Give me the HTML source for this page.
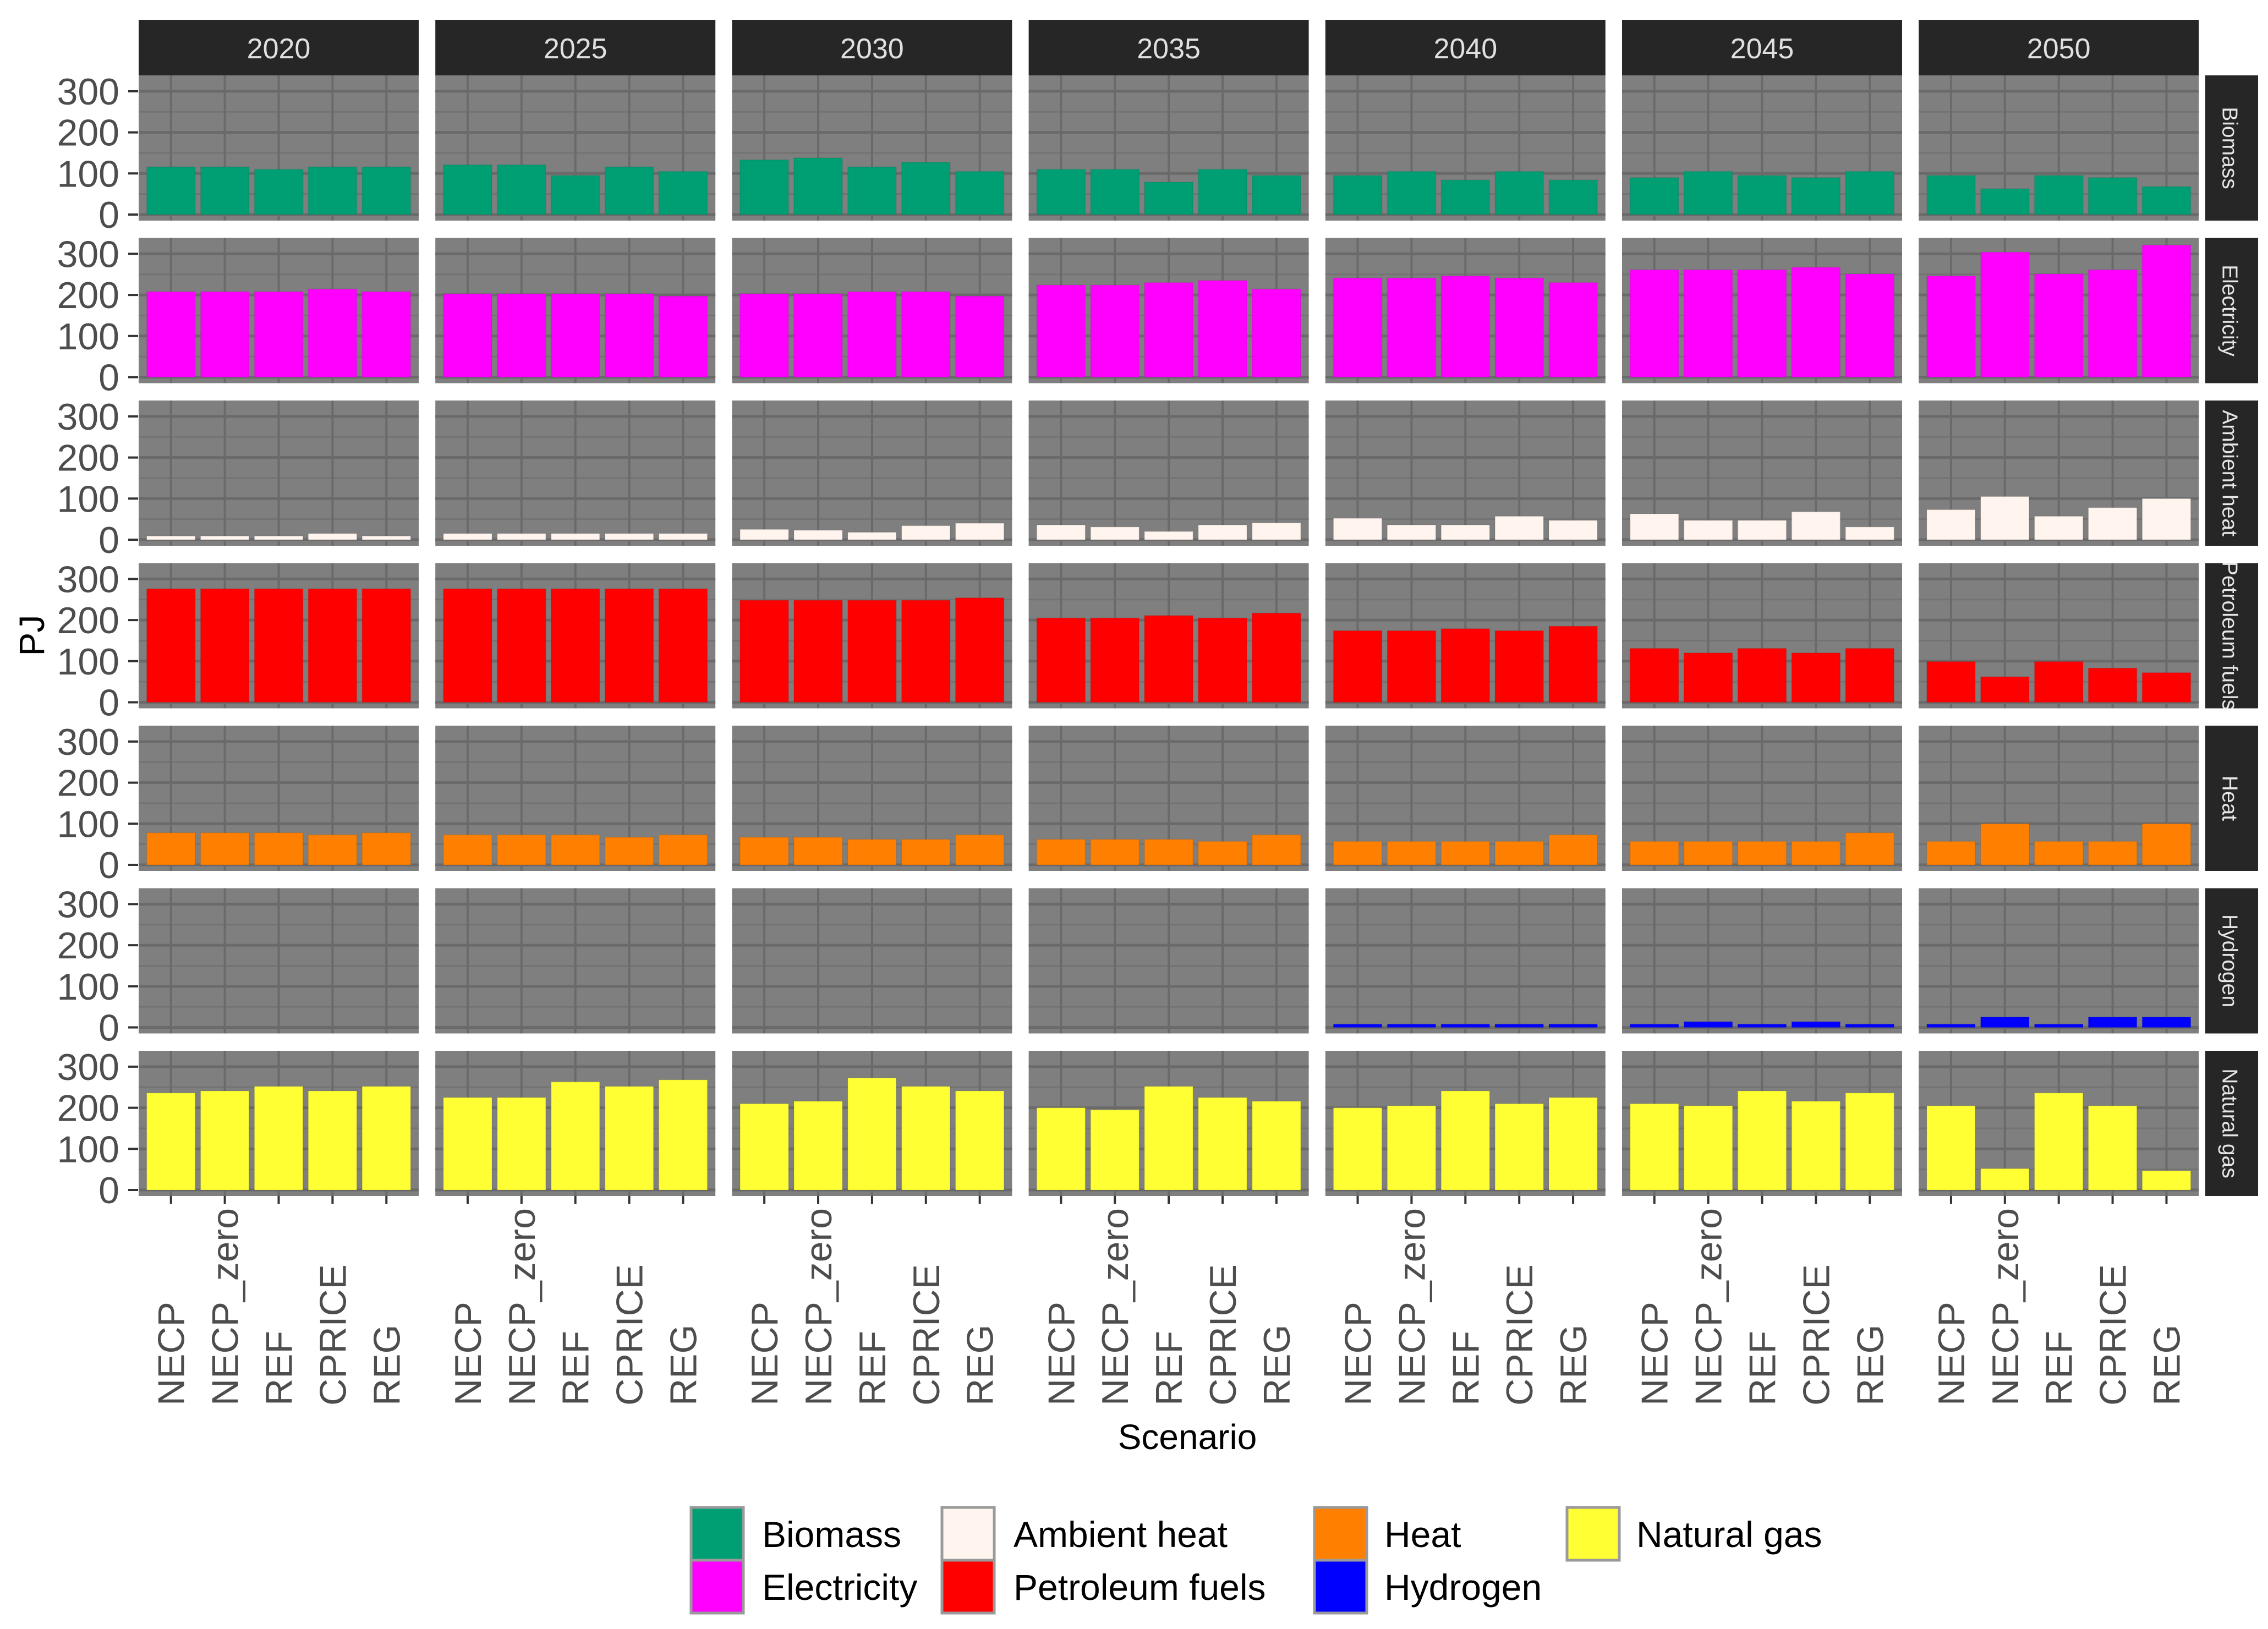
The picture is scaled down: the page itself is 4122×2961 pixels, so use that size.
<!DOCTYPE html>
<html><head><meta charset="utf-8"><style>
html,body{margin:0;padding:0;background:#fff;}
svg{display:block;font-family:"Liberation Sans",Arial,sans-serif;}
</style></head><body>
<svg id="chart" width="4122" height="2961" viewBox="0 0 4122 2961" xmlns="http://www.w3.org/2000/svg"></svg>
<script>
const years = ["2020","2025","2030","2035","2040","2045","2050"];
const scenarios = ["NECP","NECP_zero","REF","CPRICE","REG"];
const carriers = ["Biomass","Electricity","Ambient heat","Petroleum fuels","Heat","Hydrogen","Natural gas"];
const colors = ["#009E73","#FF00FF","#FFF5EE","#FF0000","#FF8000","#0000FF","#FFFF33"];
const yTicks = [0,100,200,300];
const yTickLabels = ["0","100","200","300"];
// values[carrier][year][scenario] in PJ
const biomass = [[116,116,110,116,116],[121,121,95,116,105],[133,138,116,127,105],[110,110,79,110,95],[95,105,84,105,84],[90,105,95,90,105],[95,63,95,90,68]];
const electricity = [[208,208,208,214,208],[203,203,203,203,197],[203,203,208,208,197],[224,224,230,235,214],[241,241,246,241,230],[261,261,261,267,251],[246,304,251,261,321]];
const ambientHeat = [[9,9,9,15,9],[15,15,15,15,15],[25,23,18,34,40],[36,31,20,36,41],[52,36,36,57,47],[63,47,47,68,31],[73,105,57,78,100]];
const petroleum = [[276,276,276,276,276],[276,276,276,276,276],[248,248,248,248,254],[205,205,211,205,217],[174,174,179,174,185],[131,120,131,120,131],[99,62,99,83,72]];
const heat = [[78,78,78,73,78],[73,73,73,67,73],[67,67,62,62,73],[62,62,62,57,73],[57,57,57,57,73],[57,57,57,57,78],[57,100,57,57,100]];
const hydrogen = [[0,0,0,0,0],[0,0,0,0,0],[0,0,0,0,0],[0,0,0,0,0],[8,8,8,8,8],[8,14,8,14,8],[8,25,8,25,25]];
const naturalGas = [[236,241,252,241,252],[225,225,263,252,268],[210,216,273,252,241],[200,195,252,225,216],[200,205,241,210,225],[210,205,241,216,236],[205,52,236,205,47]];
const allValues = [biomass,electricity,ambientHeat,petroleum,heat,hydrogen,naturalGas];

const NS="http://www.w3.org/2000/svg";
const svg=document.getElementById('chart');
function mk(tag,attrs,parent){const e=document.createElementNS(NS,tag);for(const k in attrs)e.setAttribute(k,attrs[k]);(parent||svg).appendChild(e);return e;}

const PX0=252, PPITCH=539.2, PW=509;
const PT0=137, RPITCH=295.5, PH=264;
const ZERO_OFF=253, PPU=0.747;
const UNIT=PW/5.2;
function xCenter(i,j){return PX0+PPITCH*i+(j+0.6)*UNIT;}
function yVal(k,v){return PT0+RPITCH*k+ZERO_OFF-v*PPU;}

years.forEach((yr,i)=>{
  const g=mk('g',{});
  
  
  mk('rect',{x:PX0+PPITCH*i,y:36,width:PW,height:101,fill:'#262626'},g);
  const t=mk('text',{x:PX0+PPITCH*i+PW/2,y:106,'text-anchor':'middle','font-size':52,fill:'#e0e0e0'},g);
  t.textContent=yr;
});

carriers.forEach((c,k)=>{
  const pt=PT0+RPITCH*k;
  const sg=mk('g',{});
  
  
  mk('rect',{x:4008,y:pt,width:96,height:PH,fill:'#262626'},sg);
  const st=mk('text',{x:4050,y:pt+PH/2,'text-anchor':'middle','font-size':39,fill:'#e6e6e6',transform:`rotate(90 4050 ${pt+PH/2})`},sg);
  st.setAttribute('dominant-baseline','middle');
  st.textContent=c;
  const ya=mk('g',{});
  
  
  yTicks.forEach((v,ti)=>{
    const y=yVal(k,v);
    mk('line',{x1:233,x2:251,y1:y,y2:y,stroke:'#333',"stroke-width":4},ya);
    const t=mk('text',{x:217,y:y+24,'text-anchor':'end','font-size':68,fill:'#4d4d4d'},ya);
    t.textContent=yTickLabels[ti];
  });
  years.forEach((yr,i)=>{
    const px=PX0+PPITCH*i;
    const pg=mk('g',{});
    
    
    mk('rect',{x:px,y:pt,width:PW,height:PH,fill:'#7f7f7f'},pg);
    [50,150,250].forEach(v=>mk('line',{x1:px,x2:px+PW,y1:yVal(k,v),y2:yVal(k,v),stroke:'#737373','stroke-width':3},pg));
    yTicks.forEach(v=>mk('line',{x1:px,x2:px+PW,y1:yVal(k,v),y2:yVal(k,v),stroke:'#6a6a6a','stroke-width':5},pg));
    scenarios.forEach((s,j)=>mk('line',{x1:xCenter(i,j),x2:xCenter(i,j),y1:pt,y2:pt+PH,stroke:'#6a6a6a','stroke-width':4},pg));
    scenarios.forEach((s,j)=>{
      const v=allValues[k][i][j];
      if(v<=0)return;
      const y=yVal(k,v), y0=yVal(k,0);
      const b=mk('rect',{x:xCenter(i,j)-UNIT*0.45,y:y,width:UNIT*0.9,height:y0-y,fill:colors[k],stroke:'rgba(0,0,0,0.06)','stroke-width':2},pg);
      
      
    });
  });
});

years.forEach((yr,i)=>{
  const xg=mk('g',{});
  
  
  const pb=PT0+RPITCH*6+PH;
  scenarios.forEach((s,j)=>{
    const x=xCenter(i,j);
    mk('line',{x1:x,x2:x,y1:pb,y2:pb+14,stroke:'#333','stroke-width':4},xg);
    const t=mk('text',{x:x+24,y:2555,'font-size':68,fill:'#4d4d4d',transform:`rotate(-90 ${x+24} 2555)`},xg);
    t.textContent=s;
  });
});

const xt=mk('text',{x:2158,y:2634,'text-anchor':'middle','font-size':64,fill:'#000'});


xt.textContent='Scenario';
const yt=mk('text',{x:80,y:1155,'text-anchor':'middle','font-size':64,fill:'#000',transform:'rotate(-90 80 1155)'});


yt.textContent='PJ';

const legCols=[1256,1712,2389,2848];
const legTextX=[1385,1842,2516,2974];
const legRows=[2740,2836];
const legOrder=[[0,0,0],[1,0,1],[2,1,0],[3,1,1],[4,2,0],[5,2,1],[6,3,0]];
const lg=mk('g',{});


legOrder.forEach(([k,col,row])=>{
  const eg=mk('g',{},lg);
  
  
  mk('rect',{x:legCols[col],y:legRows[row],width:95,height:96,fill:colors[k],stroke:'#9a9a9a','stroke-width':5},eg);
  const t=mk('text',{x:legTextX[col],y:legRows[row]+72,'font-size':66,fill:'#000'},eg);
  t.textContent=carriers[k];
});
</script>
</body></html>
